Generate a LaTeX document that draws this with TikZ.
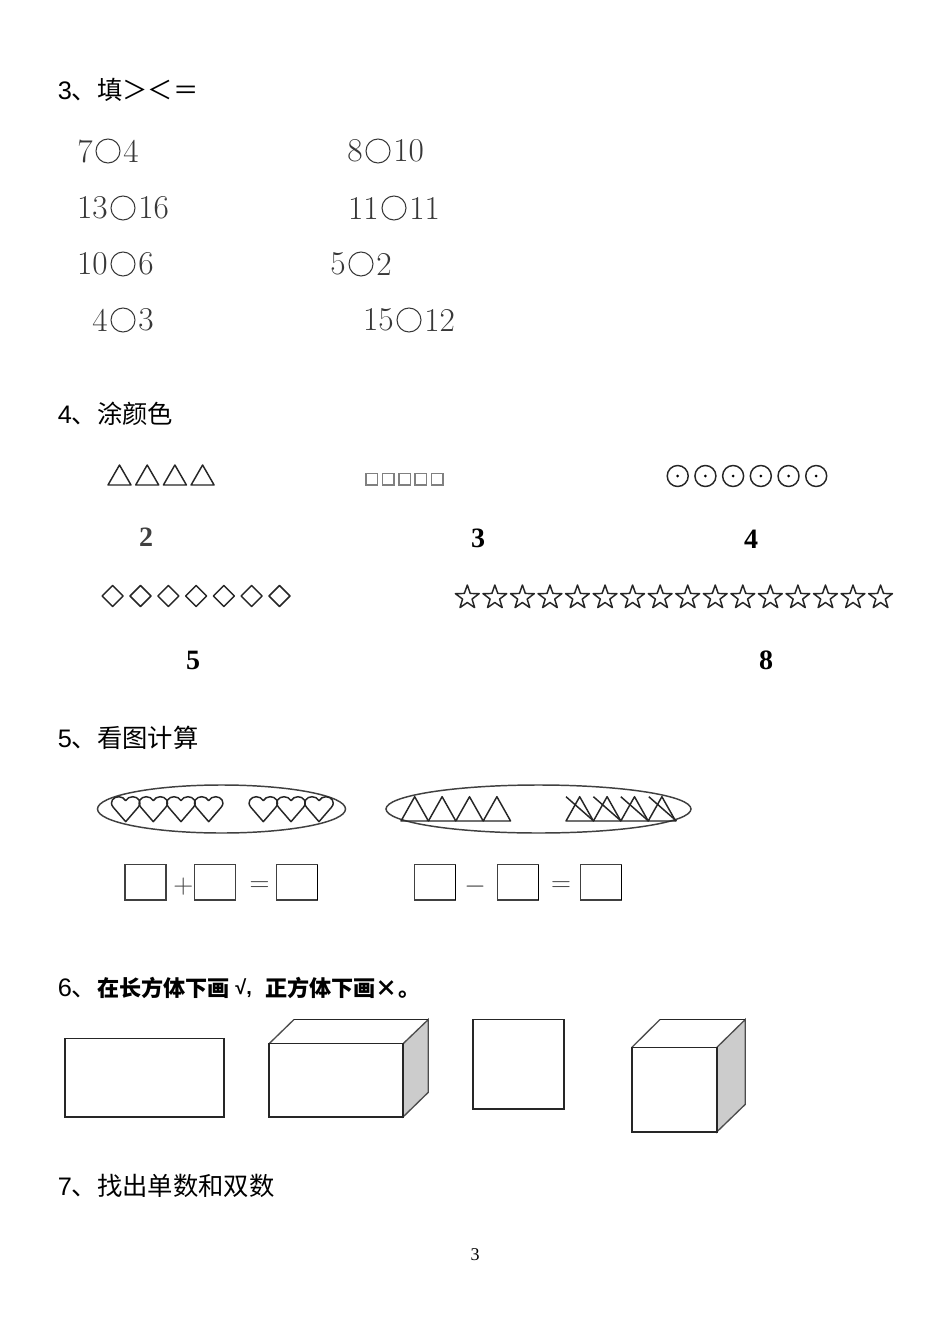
\documentclass[tikz,border=0pt]{standalone}
\usepackage{fontspec}
\usepackage{xcolor}
\newfontfamily\cjk{Noto Sans CJK SC}
\newfontfamily\headfont{Liberation Sans}
\newfontfamily\timesfont{Liberation Serif}
\definecolor{printgray}{gray}{0.22}
\definecolor{sidegray}{gray}{0.8}
\tikzset{
  heading/.style={anchor=west, inner sep=0pt, font=\headfont\fontsize{19}{19}\selectfont},
  boldhead/.style={anchor=west, inner sep=0pt, font=\cjk\bfseries\fontsize{16.6}{16.6}\selectfont},
  cmpnum/.style={inner sep=0pt, text=printgray, font=\fontsize{25}{25}\selectfont},
  countnum/.style={inner sep=0pt, font=\timesfont\bfseries\fontsize{21}{21}\selectfont},
  opsign/.style={inner sep=0pt, text=black!75, font=\fontsize{20}{20}\selectfont},
  thinline/.style={draw=black!85, line width=1.1pt, line join=round},
  solidline/.style={draw=black!85, line width=1.3pt, line join=miter},
  slantline/.style={draw=black!70, line width=1pt},
}
\begin{document}
\begin{tikzpicture}[x=0.75pt, y=-0.75pt]
  \useasboundingbox[fill=white] (0,0) rectangle (950,1344);

  % Part 3, compare the numbers
  \node[heading] (head3) at (57.5,90) {3\cjk 、填＞＜＝};
  \foreach \cx/\cy/\lnum/\rnum [count=\i] in {108/151/7/4, 378/151/8/10, 123/208/13/16, 394/208/11/11, 123/264/10/6, 361/264/5/2, 123/320/4/3, 409/320/15/12} {
    \draw[printgray, line width=0.8pt] (\cx,\cy) circle (12);
    \node[cmpnum, anchor=east] (lhs\i) at (\cx-15,\cy) {\lnum};
    \node[cmpnum, anchor=west] (rhs\i) at (\cx+15,\cy) {\rnum};
  }

  % Part 4, colour in the shapes
  \node[heading] (head4) at (57.5,414) {4\cjk 、涂颜色};
  \foreach \i in {0,...,3}
    \draw[thinline] (108+27.7*\i,485) -- ++(11.5,-20) -- ++(11.5,20) -- cycle;
  \foreach \i in {0,...,4}
    \draw[draw=black!50, line width=1.1pt] (366+16.4*\i,473.5) rectangle ++(11.5,11.5);
  \foreach \i in {0,...,5} {
    \draw[thinline] (677.7+27.7*\i,476) circle (10.5);
    \fill[black] (677.7+27.7*\i,476) circle (1.5);
  }
  \foreach \i in {0,...,6}
    \draw[thinline] (102.2+27.8*\i,596) -- ++(10.5,-10.5) -- ++(10.5,10.5) -- ++(-10.5,10.5) -- cycle;
  \foreach \i in {0,...,15}
    \draw[thinline, shift={(467.3+27.55*\i,597.5)}] plot[variable=\k, samples at={0,...,9}] ({\k*36-90}:{mod(\k,2)==0?12.5:5}) -- cycle;
  \node[countnum, text=black!75] (two) at (146,537) {2};
  \node[countnum] (three) at (478,538) {3};
  \node[countnum] (four) at (751,539) {4};
  \node[countnum] (five) at (193,660) {5};
  \node[countnum] (eight) at (766,660) {8};

  % Part 5, count and calculate
  \node[heading] (head5) at (57.5,738) {5\cjk 、看图计算};
  \draw[draw=black!75, line width=1.1pt] (221.5,809) ellipse (124 and 24);
  \draw[draw=black!75, line width=1.1pt] (538.5,809) ellipse (152.5 and 24);
  \foreach \x in {125.7,153.3,181,208.7,263.3,291,319}
    \draw[thinline, shift={(\x,821.7)}] (0,0) -- (-12.5,-14.5) .. controls (-17,-20) and (-12,-25) .. (-7,-25) .. controls (-4,-25) and (-1.5,-23.5) .. (0,-21) .. controls (1.5,-23.5) and (4,-25) .. (7,-25) .. controls (12,-25) and (17,-20) .. (12.5,-14.5) -- cycle;
  \foreach \x in {401,428.4,455.8,483.2,566,593.4,620.8,648.2}
    \draw[thinline] (\x,821) -- ++(13.7,-24.3) -- ++(13.7,24.3) -- cycle;
  \foreach \x in {566,593.4,620.8,648.8}
    \draw[thinline] (\x,796.7) -- ++(27.7,24.3);

  % boxes of the two sums
  \foreach \x in {125,194.5,276.5,414.5,497.5,580.5}
    \draw[draw=black!75, line width=0.9pt] (\x,864.5) rectangle ++(41,35.5);
  \foreach \x in {317.5,455.5,538.5,621.5}
    \draw[black, line width=1.4pt] (\x,864.5) -- ++(0,35.5);
  \node[opsign] (plus) at (183.3,887) {$+$};
  \node[opsign] (equalsa) at (259.5,886.5) {$=$};
  \node[opsign] (minus) at (475,886.5) {$-$};
  \node[opsign] (equalsb) at (561,886.5) {$=$};

  % Part 6, cuboid and cube
  \node[heading] (head6) at (57.5,988) {6\cjk 、};
  \node[boldhead] (task6a) at (97,988) {在长方体下画};
  \node[boldhead, font=\headfont\bfseries\fontsize{15}{15}\selectfont] (tick) at (235,988) {√,};
  \node[boldhead] (task6b) at (265,988) {正方体下画×。};
  \draw[solidline] (65,1038.5) rectangle (224.3,1117);
  \filldraw[slantline, fill=sidegray] (403.3,1043.5) -- (428.3,1019.5) -- (428.3,1092.3) -- (403.3,1116.7) -- cycle;
  \draw[slantline] (269.3,1043.5) -- (294,1019.5);
  \draw[solidline] (294,1019.5) -- (428.3,1019.5);
  \draw[solidline] (269.3,1043.5) rectangle (403.3,1116.7);
  \draw[solidline] (473,1019.5) rectangle (564,1109.3);
  \filldraw[slantline, fill=sidegray] (716.7,1047.5) -- (745.3,1019.5) -- (745.3,1104.3) -- (716.7,1132) -- cycle;
  \draw[slantline] (631.7,1047.5) -- (660,1019.5);
  \draw[solidline] (660,1019.5) -- (745.3,1019.5);
  \draw[solidline] (631.7,1047.5) rectangle (716.7,1132);

  % Part 7 and the page number
  \node[heading] (head7) at (57.5,1186) {7\cjk 、找出单数和双数};
  \node[inner sep=0pt, font=\timesfont\fontsize{13.5}{13.5}\selectfont] (pageno) at (475,1254.5) {3};
\end{tikzpicture}
\end{document}
